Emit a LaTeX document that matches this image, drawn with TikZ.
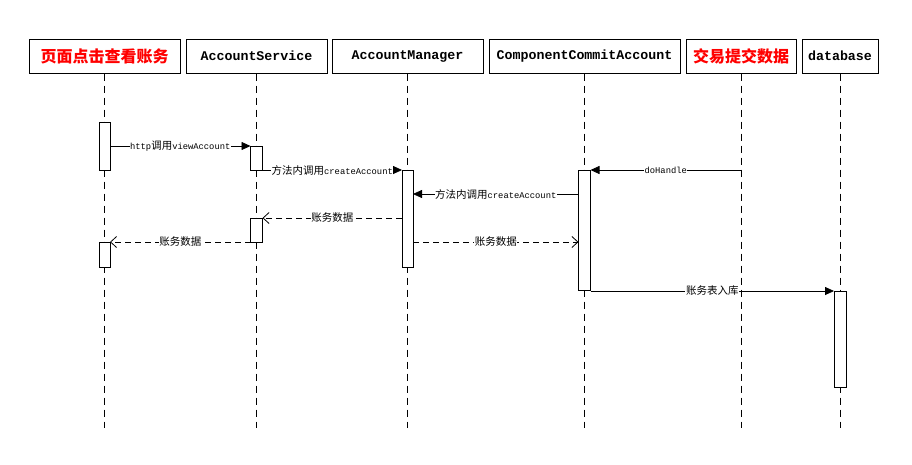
\documentclass[tikz,border=0pt]{standalone}
\usepackage{fontspec}
\usetikzlibrary{arrows.meta}
\newfontfamily\lat{Liberation Mono}
\newfontfamily\cjk{Noto Sans CJK SC}
% Sequence diagram: account view request flow
\newcommand{\zh}[1]{{\cjk\fontsize{10.5}{12}\selectfont #1}}
\newcommand{\en}[1]{{\lat\fontsize{8.8}{12}\selectfont #1}}
\begin{document}
\begin{tikzpicture}[x=1pt,y=-1pt,
  head/.style={draw,line width=1pt,minimum height=34pt,inner sep=0pt,anchor=center,
    font=\lat\bfseries\fontsize{13.3}{16}\selectfont},
  headzh/.style={head,text=red,font=\cjk\bfseries\fontsize{16}{18}\selectfont},
  life/.style={line width=0.8pt,dash pattern=on 7pt off 5pt},
  act/.style={draw,fill=white,line width=0.8pt,minimum width=11pt,inner sep=0pt,
    outer sep=0pt,anchor=north},
  call/.style={line width=0.8pt,-{Triangle[length=9pt,width=8pt]}},
  reply/.style={line width=0.8pt,dash pattern=on 6pt off 4pt,-{Straight Barb[length=6pt,width=11pt]}},
  lbl/.style={fill=white,inner sep=0.6pt,midway}]
\useasboundingbox (0,0) rectangle (912,464);

% participants
\node[headzh,minimum width=151pt] (h1) at (104.5,56) {页面点击查看账务};
\node[head,minimum width=141pt] (h2) at (256.5,56) {AccountService};
\node[head,minimum width=151pt] (h3) at (407.5,56) {AccountManager};
\node[head,minimum width=191pt] (h4) at (584.5,56) {ComponentCommitAccount};
\node[headzh,minimum width=110pt] (h5) at (741,56) {交易提交数据};
\node[head,minimum width=76pt] (h6) at (840,56) {database};

% lifelines
\foreach \i in {1,...,6}{
  \coordinate (e\i) at (h\i.south |- 0,428);
  \draw[life] (h\i.south) -- (e\i);
}

% activations
\node[act,minimum height=48pt] (a1) at (h1.south |- 0,122) {};
\node[act,minimum height=25pt] (a1b) at (h1.south |- 0,242) {};
\node[act,minimum height=24pt,minimum width=12pt] (a2) at (h2.south |- 0,146) {};
\node[act,minimum height=24pt,minimum width=12pt] (a2b) at (h2.south |- 0,218) {};
\node[act,minimum height=97pt] (a3) at (h3.south |- 0,170) {};
\node[act,minimum height=120pt,minimum width=12pt] (a4) at (h4.south |- 0,170) {};
\node[act,minimum height=96pt,minimum width=12pt] (a6) at (h6.south |- 0,291) {};

% messages
\draw[call] (a1.east |- a2.north) -- (a2.north west)
  node[lbl] {\en{http}\zh{调用}\en{viewAccount}};
\draw[call] (a2.south east) -- (a3.north west)
  node[lbl] {\zh{方法内调用}\en{createAccount}};
\draw[call] (h5.south |- a4.north) -- (a4.north east)
  node[lbl] {\en{doHandle}};
\coordinate (m4) at (a4.west |- 0,194);
\draw[call] (m4) -- (a3.east |- m4)
  node[lbl] {\zh{方法内调用}\en{createAccount}};
\draw[reply] (a3.west |- a2b.north) -- (a2b.north east)
  node[lbl] {\zh{账务数据}};
\draw[reply] (a2b.south west) -- (a1b.north east)
  node[lbl] {\zh{账务数据}};
\draw[reply] (a3.east |- a1b.north) -- (a4.west |- a1b.north)
  node[lbl] {\zh{账务数据}};
\draw[call] (a4.east |- a6.north) -- (a6.north west)
  node[lbl] {\zh{账务表入库}};
\end{tikzpicture}
\end{document}
